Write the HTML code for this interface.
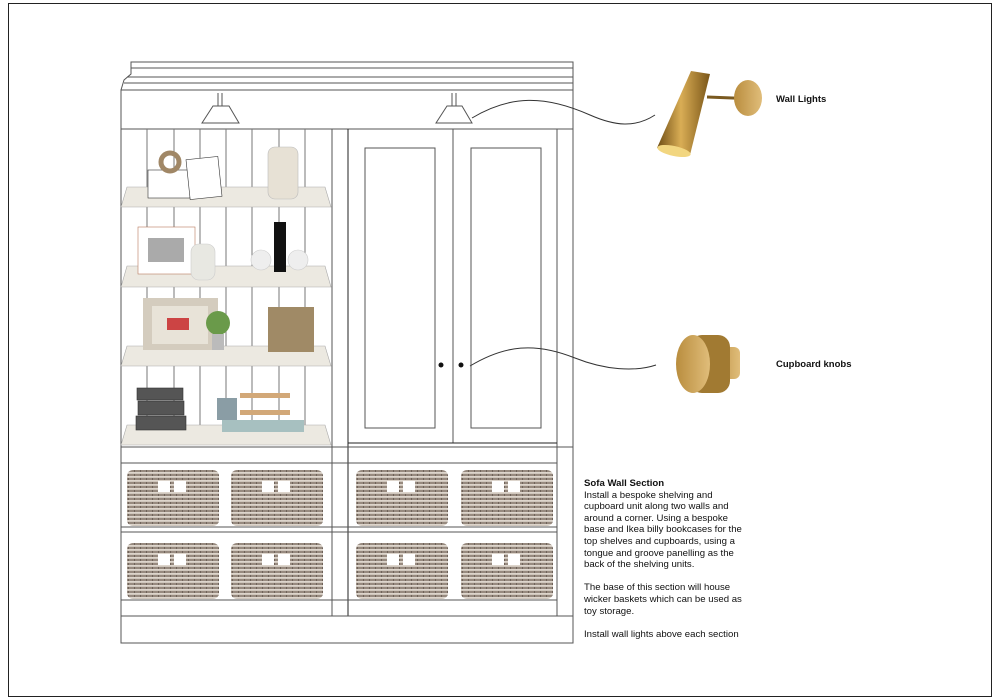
<!DOCTYPE html>
<html><head><meta charset="utf-8"><style>
html,body{margin:0;padding:0;background:#fff;}
body{width:1000px;height:700px;overflow:hidden;position:relative;font-family:"Liberation Sans",sans-serif;}
.t{position:absolute;font-size:9.6px;line-height:11.6px;color:#111;}
</style></head><body>
<svg width="1000" height="700" viewBox="0 0 1000 700" style="position:absolute;left:0;top:0">
<defs>
<pattern id="wick" width="6" height="4" patternUnits="userSpaceOnUse">
<rect width="6" height="4" fill="#978a7f"/>
<rect y="0" width="6" height="1.8" fill="#ddd5cc"/>
<rect x="2" y="2" width="1" height="2" fill="#6e6259"/>
</pattern>
<linearGradient id="brass" x1="0" x2="1"><stop offset="0" stop-color="#6e4d14"/><stop offset=".45" stop-color="#d9ad55"/><stop offset="1" stop-color="#7a5618"/></linearGradient>
<linearGradient id="brass2" x1="0" x2="1"><stop offset="0" stop-color="#b98d3e"/><stop offset="1" stop-color="#e0bd7a"/></linearGradient>
</defs>
<rect x="8.5" y="3.5" width="983" height="693" fill="none" stroke="#222" stroke-width="1"/>
<g fill="none" stroke="#555" stroke-width="1">
<path d="M121 90 L124 80 L131 74 L131 62 L573 62 L573 90"/>
<line x1="131" y1="68" x2="573" y2="68"/>
<line x1="127" y1="77" x2="573" y2="77"/>
<line x1="124" y1="83" x2="573" y2="83"/>
<line x1="121" y1="90" x2="573" y2="90"/>
<rect x="121" y="90" width="452" height="553"/>
<line x1="121" y1="129" x2="573" y2="129"/>
<path d="M218 93 V106 M222 93 V106 M213 106 H229 L239 123 H202 Z"/>
<path d="M452 93 V106 M456 93 V106 M447 106 H462 L472 123 H436 Z"/>
<line x1="332" y1="129" x2="332" y2="616"/>
<line x1="348" y1="129" x2="348" y2="616" stroke="#222"/>
<g stroke="#777">
<line x1="147" y1="129" x2="147" y2="440"/><line x1="174" y1="129" x2="174" y2="440"/>
<line x1="200" y1="129" x2="200" y2="440"/><line x1="226" y1="129" x2="226" y2="440"/>
<line x1="252" y1="129" x2="252" y2="440"/><line x1="279" y1="129" x2="279" y2="440"/>
<line x1="305" y1="129" x2="305" y2="440"/>
</g>
<line x1="453" y1="129" x2="453" y2="443"/>
<line x1="557" y1="129" x2="557" y2="616"/>
<line x1="348" y1="443" x2="557" y2="443" stroke="#222"/>
<rect x="365" y="148" width="70" height="280"/>
<rect x="471" y="148" width="70" height="280"/>
<line x1="121" y1="447" x2="573" y2="447"/>
<line x1="121" y1="463" x2="557" y2="463"/>
<line x1="121" y1="527" x2="557" y2="527"/>
<line x1="121" y1="532" x2="557" y2="532"/>
<line x1="121" y1="600" x2="557" y2="600"/>
<line x1="121" y1="616" x2="573" y2="616"/>
</g>
<circle cx="441" cy="365" r="2.5" fill="#111"/>
<circle cx="461" cy="365" r="2.5" fill="#111"/>
<g fill="#ece9e1" stroke="#aaa" stroke-width=".6">
<path d="M127 187 H325 L331 207 H121 Z"/>
<path d="M127 266 H325 L331 287 H121 Z"/>
<path d="M127 346 H325 L331 366 H121 Z"/>
<path d="M127 425 H325 L331 445 H121 Z"/>
</g>
<g stroke="#333" stroke-width=".6">
<rect x="148" y="170" width="42" height="28" fill="#fff"/>
<rect x="188" y="158" width="32" height="40" fill="#fff" transform="rotate(-6 204 178)"/>
<circle cx="170" cy="162" r="9" fill="none" stroke="#a08766" stroke-width="5"/>
<rect x="268" y="147" width="30" height="52" rx="7" fill="#e7e1d5" stroke="#bbb"/>
<rect x="138" y="227" width="57" height="47" fill="#fff" stroke="#b87a5e"/>
<rect x="148" y="238" width="36" height="24" fill="#aaa" stroke="none"/>
<rect x="191" y="244" width="24" height="36" rx="8" fill="#e8e8e2" stroke="#ccc"/>
<circle cx="261" cy="260" r="10" fill="#eee" stroke="#ccc"/>
<circle cx="298" cy="260" r="10" fill="#eee" stroke="#ccc"/>
<rect x="274" y="222" width="12" height="50" fill="#111" stroke="none"/>
<rect x="143" y="298" width="75" height="52" fill="#d4ccbe" stroke="none"/>
<rect x="152" y="306" width="56" height="38" fill="#e8e3d8" stroke="none"/>
<rect x="167" y="318" width="22" height="12" fill="#c44" stroke="none"/>
<circle cx="218" cy="323" r="12" fill="#6a9a4a" stroke="none"/>
<rect x="212" y="334" width="12" height="16" fill="#bbb" stroke="none"/>
<rect x="268" y="307" width="46" height="45" fill="#a08a66" stroke="none"/>
<rect x="137" y="388" width="46" height="12" fill="#555"/>
<rect x="138" y="401" width="46" height="14" fill="#555"/>
<rect x="136" y="416" width="50" height="14" fill="#555"/>
<rect x="217" y="398" width="20" height="22" fill="#8a9da5" stroke="none"/>
<rect x="240" y="393" width="50" height="5" fill="#d2a878" stroke="none"/>
<rect x="240" y="410" width="50" height="5" fill="#d2a878" stroke="none"/>
<rect x="222" y="420" width="82" height="12" fill="#a7c0c0" stroke="none"/>
</g>
<g>
<g id="b"><rect x="127" y="470" width="92" height="56" rx="6" fill="url(#wick)"/><rect x="158" y="481" width="12" height="11" fill="#fff"/><rect x="174" y="481" width="12" height="11" fill="#fff"/></g>
<use href="#b" x="104"/><use href="#b" x="229"/><use href="#b" x="334"/>
<use href="#b" y="73"/><use href="#b" x="104" y="73"/><use href="#b" x="229" y="73"/><use href="#b" x="334" y="73"/>
</g>
<path d="M472 118 C510 95 545 95 590 115 C615 126 635 128 655 115" fill="none" stroke="#333" stroke-width="1"/>
<path d="M470 366 C505 345 535 342 575 358 C605 370 635 372 656 365" fill="none" stroke="#333" stroke-width="1"/>
<line x1="707" y1="97" x2="758" y2="99" stroke="#7a5a20" stroke-width="3"/>
<ellipse cx="748" cy="98" rx="14" ry="18" fill="url(#brass2)"/>
<path d="M691 71 L710 74 L690 155 L657 148 Z" fill="url(#brass)"/>
<ellipse cx="674" cy="151" rx="17" ry="5" transform="rotate(12 674 151)" fill="#f2d680"/>
<rect x="712" y="347" width="28" height="32" rx="6" fill="url(#brass2)"/>
<rect x="690" y="335" width="40" height="58" rx="12" fill="#a17a32"/>
<ellipse cx="693" cy="364" rx="17" ry="29" fill="url(#brass2)"/>
</svg>
<div class="t" style="left:776px;top:94px;font-weight:bold;font-size:9.5px">Wall Lights</div>
<div class="t" style="left:776px;top:359px;font-weight:bold;font-size:9.5px">Cupboard knobs</div>
<div class="t" style="left:584px;top:478px;width:200px">
<b>Sofa Wall Section</b><br>Install a bespoke shelving and<br>cupboard unit along two walls and<br>around a corner. Using a bespoke<br>base and Ikea billy bookcases for the<br>top shelves and cupboards, using a<br>tongue and groove panelling as the<br>back of the shelving units.<br><br>The base of this section will house<br>wicker baskets which can be used as<br>toy storage.<br><br>Install wall lights above each section</div>
</body></html>
